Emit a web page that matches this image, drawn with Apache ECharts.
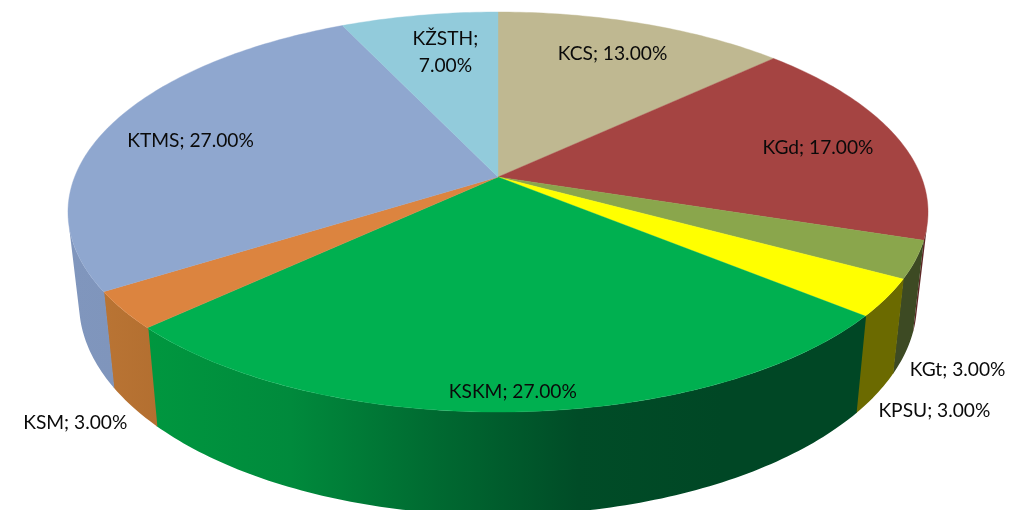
<!DOCTYPE html>
<html>
<head>
<meta charset="utf-8">
<style>html,body{margin:0;padding:0;background:#fff;overflow:hidden}#chart{width:1023px;height:510px}</style>
<script src="https://cdn.jsdelivr.net/npm/echarts@6/dist/echarts.min.js"></script>
</head>
<body>
<div id="chart"></div>
<script>
// Data
const categories = ['KCS', 'KGd', 'KGt', 'KPSU', 'KSKM', 'KSM', 'KTMS', 'KŽSTH'];
const shares = [13, 17, 3, 3, 27, 3, 27, 7];

// Style
const topColors = ['#BFB891', '#A54442', '#8AA64C', '#FFFF00', '#00B050', '#DC843F', '#8FA7CF', '#92CBDB'];
const wallStops = [
  ['#6e6a52', '#6e6a52'],
  ['#5e2726', '#5e2726'],
  ['#3d4a23', '#3d4a23'],
  ['#6b6a00', '#6b6a00'],
  ['#00973f', '#008a3c', '#006a31', '#004c27', '#004725', '#004725'],
  ['#b97434', '#b36f30'],
  ['#8096bd', '#7b90b6'],
  ['#6a919c', '#6a919c']
];
const labelBreak = [0, 0, 0, 0, 0, 0, 0, 1];
const labelRadius = [0.78, 0.78, 1, 1, 0.93, 1, 0.78, 0.78];
const labelShiftX = [-2, 7, 42, 48, 0, -48, -2, 11];
const labelShiftY = [0, 3, 110, 113, 0, 113, 4, 6];
const wallOverlap = 0.06; // share units, hides the hairline between neighbouring walls

// Projection of the tilted disc
const topFace = { cx: 498, cy: 177, rx: 423.4, ry: 193.9, k: 0.175 };
const baseFace = { cx: 498, cy: 266, rx: 412.5, ry: 205.6, k: 0.175 };
const total = shares.reduce((a, b) => a + b, 0);
const startAt = [];
shares.reduce((sum, s, i) => (startAt[i] = sum, sum + s), 0);

function project(face, frac, r) {
  const t = frac / total * Math.PI * 2;
  const u = Math.sin(t) * r, v = -Math.cos(t) * r;
  const d = 1 - face.k * v;
  return [face.cx + face.rx * u / d, face.cy + face.ry * v / d];
}
function rim(face, a, b) {
  const pts = [];
  const n = Math.max(8, Math.ceil((b - a) * 4));
  for (let i = 0; i <= n; i++) pts.push(project(face, a + (b - a) * i / n, 1));
  return pts;
}
const seriesData = shares.map((s, i) => [s, i]);

function quadArea(q) {
  let sum = 0;
  for (let i = 0; i < q.length; i++) {
    const p = q[i], n = q[(i + 1) % q.length];
    sum += p[0] * n[1] - n[0] * p[1];
  }
  return sum;
}
function renderWall(params, api) {
  const i = api.value(1), a = startAt[i] - wallOverlap, b = startAt[i] + api.value(0);
  const upper = rim(topFace, a, b), lower = rim(baseFace, a, b);
  const xs = upper.concat(lower).map(p => p[0]);
  const stops = wallStops[i];
  const fill = {
    type: 'linear', global: true,
    x: Math.min.apply(null, xs), y: 0, x2: Math.max.apply(null, xs), y2: 0,
    colorStops: stops.map((c, j) => ({ offset: j / (stops.length - 1), color: c }))
  };
  let d = '';
  for (let j = 0; j < upper.length - 1; j++) {
    const q = [upper[j], upper[j + 1], lower[j + 1], lower[j]];
    if (quadArea(q) >= 0) continue; // faces away from the viewer
    d += 'M' + q.map(p => p[0].toFixed(2) + ' ' + p[1].toFixed(2)).join('L') + 'Z';
  }
  if (!d) return null;
  return { type: 'path', shape: { pathData: d }, style: { fill: fill } };
}
function renderTop(params, api) {
  const i = api.value(1), a = startAt[i], b = a + api.value(0);
  const pts = [[topFace.cx, topFace.cy]].concat(rim(topFace, a, b));
  return {
    type: 'polygon',
    shape: { points: pts },
    style: { fill: topColors[i], stroke: topColors[i], lineWidth: 0.4 }
  };
}
function renderLabel(params, api) {
  const i = api.value(1), s = api.value(0);
  const p = project(topFace, startAt[i] + s / 2, labelRadius[i]);
  const sep = labelBreak[i] ? ';\n' : '; ';
  return {
    type: 'text',
    style: {
      text: categories[i] + sep + s.toFixed(2) + '%',
      x: p[0] + labelShiftX[i], y: p[1] + labelShiftY[i],
      align: 'center', verticalAlign: 'middle',
      fill: '#0a0a0a', font: '19.2px Lato', lineHeight: 27
    }
  };
}

const chart = echarts.init(document.getElementById('chart'), null, { renderer: 'canvas' });
chart.setOption({
  animation: false,
  backgroundColor: '#ffffff',
  series: [
    { type: 'custom', coordinateSystem: 'none', silent: true, z: 1, data: seriesData, renderItem: renderWall },
    { type: 'custom', coordinateSystem: 'none', silent: true, z: 2, data: seriesData, renderItem: renderTop },
    { type: 'custom', coordinateSystem: 'none', silent: true, z: 3, data: seriesData, renderItem: renderLabel }
  ]
});
</script>
</body>
</html>
